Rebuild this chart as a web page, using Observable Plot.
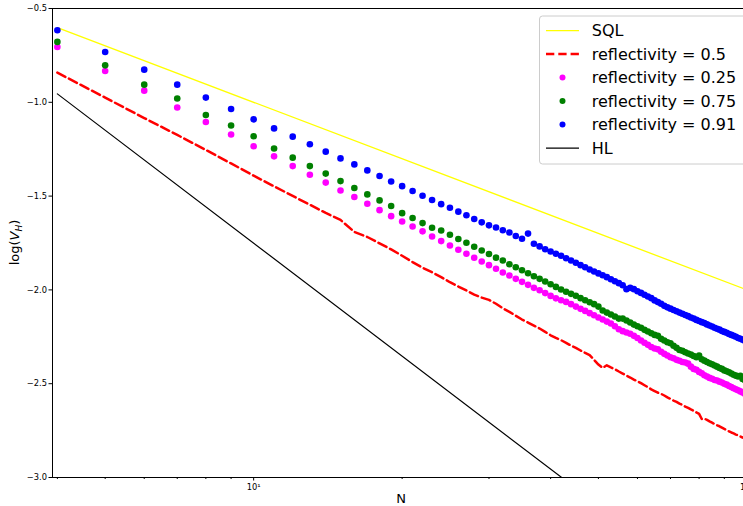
<!DOCTYPE html>
<html><head><meta charset="utf-8">
<script src="https://cdn.jsdelivr.net/npm/d3@7"></script>
<script src="https://cdn.jsdelivr.net/npm/@observablehq/plot@0.6"></script>
<style>
html,body{margin:0;padding:0;background:#fff;overflow:hidden;width:743px;height:506px}
#wrap{position:relative;width:743px;height:506px;overflow:hidden}
#wrap svg{max-width:none}
</style></head><body><div id="wrap"></div>
<script>
// ---- data ----
const N = [4,5,6,7,8,9,10,11,12,13,14,15,16,17,18,19,20,21,22,23,24,25,26,27,28,29,30,31,32,33,34,35,36,37,38,39,40,41,42,43,44,45,46,47,48,49,50,51,52,53,54,55,56,57,58,59,60,61,62,63,64,65,66,67,68,69,70,71,72,73,74,75,76,77,78,79,80,81,82,83,84,85,86,87,88,89,90,91,92,93,94,95,96,97,98,99,100];

const refl05 = [-0.842,-0.975,-1.084,-1.174,-1.254,-1.326,-1.391,-1.448,-1.499,-1.546,-1.590,-1.627,-1.691,-1.718,-1.752,-1.784,-1.818,-1.852,-1.882,-1.906,-1.932,-1.959,-1.982,-2.003,-2.025,-2.041,-2.053,-2.074,-2.098,-2.117,-2.138,-2.158,-2.174,-2.190,-2.206,-2.224,-2.242,-2.256,-2.268,-2.282,-2.297,-2.309,-2.323,-2.336,-2.348,-2.373,-2.398,-2.416,-2.402,-2.413,-2.423,-2.435,-2.446,-2.457,-2.467,-2.478,-2.487,-2.497,-2.508,-2.519,-2.530,-2.539,-2.548,-2.554,-2.563,-2.573,-2.581,-2.590,-2.597,-2.606,-2.613,-2.622,-2.629,-2.637,-2.644,-2.653,-2.661,-2.688,-2.686,-2.693,-2.701,-2.708,-2.715,-2.722,-2.727,-2.734,-2.741,-2.747,-2.754,-2.760,-2.765,-2.771,-2.776,-2.781,-2.787,-2.792,-2.797];

const refl025 = [-0.705,-0.833,-0.938,-1.028,-1.105,-1.172,-1.234,-1.288,-1.340,-1.386,-1.428,-1.470,-1.505,-1.541,-1.575,-1.607,-1.635,-1.662,-1.688,-1.715,-1.740,-1.763,-1.786,-1.807,-1.829,-1.849,-1.868,-1.887,-1.907,-1.923,-1.941,-1.957,-1.973,-1.989,-2.002,-2.017,-2.032,-2.045,-2.055,-2.064,-2.076,-2.089,-2.101,-2.112,-2.124,-2.135,-2.147,-2.158,-2.169,-2.179,-2.194,-2.210,-2.220,-2.227,-2.234,-2.245,-2.256,-2.270,-2.282,-2.293,-2.304,-2.312,-2.317,-2.330,-2.341,-2.350,-2.359,-2.364,-2.373,-2.378,-2.384,-2.387,-2.393,-2.409,-2.421,-2.426,-2.437,-2.444,-2.455,-2.462,-2.469,-2.474,-2.480,-2.483,-2.489,-2.494,-2.500,-2.505,-2.512,-2.518,-2.524,-2.530,-2.535,-2.541,-2.547,-2.554,-2.560];

const refl075 = [-0.678,-0.803,-0.906,-0.980,-1.068,-1.124,-1.181,-1.246,-1.295,-1.340,-1.380,-1.420,-1.457,-1.491,-1.523,-1.553,-1.591,-1.617,-1.644,-1.669,-1.683,-1.706,-1.729,-1.749,-1.770,-1.790,-1.809,-1.828,-1.843,-1.863,-1.879,-1.895,-1.911,-1.927,-1.941,-1.955,-1.970,-1.984,-1.998,-2.010,-2.021,-2.031,-2.044,-2.055,-2.066,-2.076,-2.089,-2.110,-2.121,-2.131,-2.142,-2.153,-2.153,-2.163,-2.174,-2.185,-2.194,-2.202,-2.213,-2.222,-2.231,-2.240,-2.245,-2.261,-2.270,-2.279,-2.284,-2.298,-2.309,-2.320,-2.325,-2.332,-2.339,-2.345,-2.352,-2.359,-2.350,-2.370,-2.377,-2.384,-2.391,-2.396,-2.403,-2.409,-2.416,-2.421,-2.429,-2.434,-2.439,-2.446,-2.452,-2.457,-2.462,-2.458,-2.475,-2.480,-2.485];

const refl091 = [-0.616,-0.732,-0.826,-0.906,-0.975,-1.036,-1.091,-1.139,-1.183,-1.224,-1.263,-1.299,-1.331,-1.363,-1.393,-1.422,-1.447,-1.473,-1.498,-1.521,-1.543,-1.562,-1.583,-1.602,-1.622,-1.640,-1.656,-1.667,-1.682,-1.694,-1.713,-1.727,-1.700,-1.754,-1.768,-1.783,-1.795,-1.807,-1.818,-1.831,-1.843,-1.855,-1.868,-1.879,-1.891,-1.902,-1.912,-1.922,-1.932,-1.943,-1.954,-1.964,-1.975,-1.996,-1.989,-1.996,-2.007,-2.016,-2.026,-2.035,-2.044,-2.056,-2.065,-2.074,-2.085,-2.093,-2.100,-2.107,-2.114,-2.121,-2.127,-2.134,-2.140,-2.147,-2.153,-2.160,-2.166,-2.172,-2.177,-2.184,-2.190,-2.195,-2.202,-2.207,-2.212,-2.219,-2.224,-2.229,-2.235,-2.240,-2.245,-2.250,-2.256,-2.260,-2.266,-2.271,-2.275];

const sqlN = [4, 100];
const sqlV = [-0.602, -2.0];
const hlN = [4, 100];
const hlV = [-0.955, -3.751];

const yTicks = [-3.0, -2.5, -2.0, -1.5, -1.0, -0.5];
const xMajor = [10, 100];
const xMajorLabels = ["10\u00b9", "10\u00b2"];
const xMinor = [4, 5, 6, 7, 8, 9, 20, 30, 40, 50, 60, 70, 80, 90];

const legendLabels = ["SQL", "reflectivity = 0.5", "reflectivity = 0.25", "reflectivity = 0.75", "reflectivity = 0.91", "HL"];
const legendColors = ["#ffff00", "#ff0000", "#ff00ff", "#008000", "#0000ff", "#000000"];
const legendKinds = ["line", "dash", "dot", "dot", "dot", "line"];

// ---- tables ----
const toRows = (xs, ys) => xs.map((n, i) => ({N: n, v: ys[i]}));
const sqlData = toRows(sqlN, sqlV);
const hlData = toRows(hlN, hlV);
const d05 = toRows(N, refl05);
const d025 = toRows(N, refl025);
const d075 = toRows(N, refl075);
const d091 = toRows(N, refl091);

const W = 750, H = 506;
const plot = Plot.plot({
  width: W, height: H,
  marginLeft: 52, marginRight: 0, marginTop: 8, marginBottom: 29,
  style: {fontFamily: "DejaVu Sans", fontSize: "8.3px", color: "#000", background: "#fff", maxWidth: "none", overflow: "visible"},
  x: {type: "log", domain: [3.91, 101.7]},
  y: {domain: [-3, -0.5]},
  marks: [
    Plot.axisY({ticks: yTicks, tickFormat: d3.format(".1f"), tickSize: 3.5, tickPadding: 2, label: null}),
    Plot.axisX({ticks: xMinor, tickFormat: () => "", tickSize: 2, label: null}),
    Plot.axisX({ticks: xMajor, tickFormat: d => xMajorLabels[xMajor.indexOf(d)], tickSize: 3.5, tickPadding: 3, label: null}),
    Plot.line(sqlData, {x: "N", y: "v", stroke: legendColors[0], strokeWidth: 1.3, clip: true}),
    Plot.line(d05, {x: "N", y: "v", stroke: legendColors[1], strokeWidth: 2.5, strokeDasharray: "9,4", clip: true}),
    Plot.dot(d025, {x: "N", y: "v", r: 3.3, fill: legendColors[2], clip: true}),
    Plot.dot(d075, {x: "N", y: "v", r: 3.3, fill: legendColors[3], clip: true}),
    Plot.dot(d091, {x: "N", y: "v", r: 3.3, fill: legendColors[4], clip: true}),
    Plot.line(hlData, {x: "N", y: "v", stroke: legendColors[5], strokeWidth: 1.2, clip: true}),
    Plot.frame({stroke: "#000", strokeWidth: 1})
  ]
});
const wrap = document.getElementById("wrap");
wrap.appendChild(plot);

// axis labels
const xs = plot.scale("x"), ys = plot.scale("y");
const svg = d3.select(plot);
const cx = (xs.range[0] + xs.range[1]) / 2;
const cy = (ys.range[0] + ys.range[1]) / 2;
svg.append("text").attr("x", cx).attr("y", H - 3).attr("text-anchor", "middle")
  .attr("font-family", "DejaVu Sans").attr("font-size", 13).attr("fill", "#000").text("N");
const yl = svg.append("text").attr("transform", `translate(19,${cy}) rotate(-90)`).attr("text-anchor", "middle")
  .attr("font-family", "DejaVu Sans").attr("font-size", 13).attr("fill", "#000");
yl.append("tspan").text("log(");
yl.append("tspan").attr("font-style", "italic").text("V");
yl.append("tspan").attr("font-style", "italic").attr("font-size", 9).attr("dy", 2.5).text("H");
yl.append("tspan").attr("dy", -2.5).text(")");

// legend
const lg = svg.append("g").attr("transform", "translate(539.5,16)").attr("text-anchor", "start");
lg.append("rect").attr("x", 0).attr("y", 0).attr("width", 230).attr("height", 148).attr("rx", 3)
  .attr("fill", "rgba(255,255,255,0.85)").attr("stroke", "#cccccc").attr("stroke-width", 1);
legendLabels.forEach((lab, i) => {
  const yy = 14.6 + 23.5 * i;
  const kind = legendKinds[i], col = legendColors[i];
  if (kind === "dot") {
    lg.append("circle").attr("cx", 23).attr("cy", yy).attr("r", 3).attr("fill", col);
  } else {
    lg.append("line").attr("x1", 6.5).attr("x2", 39.5).attr("y1", yy).attr("y2", yy)
      .attr("stroke", col).attr("stroke-width", kind === "dash" ? 2.5 : 1.4)
      .attr("stroke-dasharray", kind === "dash" ? "8.3,4" : null);
  }
  lg.append("text").attr("x", 52.3).attr("y", yy + 5.8).attr("text-anchor", "start").attr("font-family", "DejaVu Sans")
    .attr("font-size", 16).attr("fill", "#000").text(lab);
});
</script></body></html>
